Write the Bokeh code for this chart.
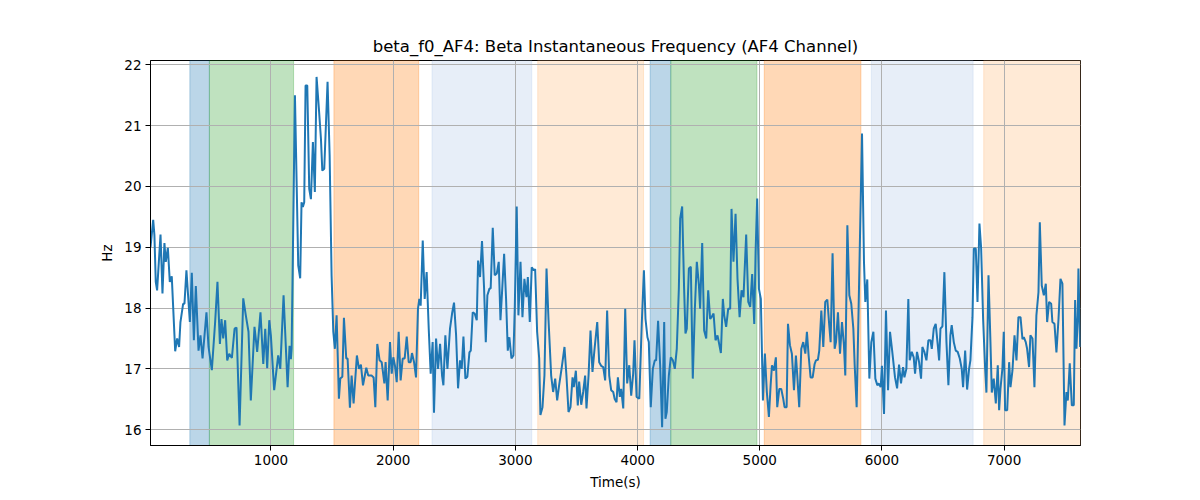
from bokeh.plotting import figure
from bokeh.models import ColumnDataSource, BoxAnnotation, Range1d, FixedTicker
from bokeh.embed import file_html
from bokeh.resources import INLINE

# time (s) and instantaneous beta frequency (Hz)
time_s = [
    14, 36, 46, 57, 68, 96, 112, 128, 139, 156, 172, 188, 216, 232, 248, 259, 281, 292, 308, 336,
    352, 369, 385, 407, 423, 440, 472, 489, 516, 543, 562, 582, 595, 609, 625, 642, 658, 680, 702, 718,
    743, 773, 794, 816, 835, 865, 887, 914, 937, 953, 969, 986,
    999, 1026, 1059, 1076, 1103, 1136, 1152, 1163, 1169, 1196, 1212, 1223, 1239, 1250, 1261, 1272, 1283, 1297,
    1313, 1327, 1343, 1359, 1373, 1392, 1409, 1420, 1436, 1463, 1480, 1496, 1510, 1523, 1537, 1556, 1567, 1584,
    1597, 1616, 1627, 1646, 1660, 1676, 1703, 1720, 1736, 1753, 1780, 1796, 1823, 1840, 1854, 1870, 1889, 1906,
    1928, 1938, 1955, 1974, 1988, 2001, 2015,
    2029, 2045, 2061, 2078, 2094, 2111, 2127, 2143, 2154, 2171, 2187, 2203, 2214, 2225, 2242, 2258, 2274, 2291,
    2307, 2323, 2334, 2351, 2367, 2384, 2400, 2411, 2427, 2444, 2465, 2482, 2498, 2515, 2531, 2547, 2561, 2575,
    2591, 2607, 2624, 2635, 2651, 2667, 2684, 2695, 2711, 2727, 2744, 2758, 2771, 2788, 2798, 2815, 2831, 2848,
    2864, 2878, 2891, 2908, 2924, 2938, 2951, 2968, 2984, 2995, 3011,
    3025, 3042, 3058, 3074, 3091, 3102, 3118, 3134, 3151, 3162, 3178, 3195, 3205, 3222, 3238, 3255, 3271, 3293,
    3309, 3326, 3342, 3358, 3380, 3402, 3418, 3435, 3451, 3468, 3478, 3495, 3511, 3522, 3539, 3555, 3571, 3582,
    3599, 3615, 3631, 3648, 3670, 3686, 3702, 3719, 3735, 3751, 3768, 3784, 3801, 3812, 3828, 3839, 3855, 3866,
    3883, 3899, 3915, 3932, 3948, 3964, 3975, 3992, 4014, 4035, 4052,
    4065, 4081, 4092, 4108, 4125, 4141, 4152, 4168, 4185, 4201, 4218, 4228, 4239, 4256, 4272, 4289, 4305, 4321,
    4338, 4349, 4365, 4381, 4392, 4403, 4420, 4436, 4452, 4469, 4485, 4502, 4512, 4529, 4545, 4562, 4578, 4594,
    4605, 4622, 4638, 4654, 4665, 4682, 4698, 4709, 4725, 4742, 4758, 4769, 4785, 4802, 4818, 4835, 4851, 4867,
    4889, 4906, 4922, 4938, 4955, 4966, 4979, 4993, 5009, 5026, 5042, 5058, 5075,
    5089, 5100, 5116, 5132, 5143, 5160, 5176, 5192, 5203, 5220, 5231, 5247, 5263, 5280, 5296, 5307, 5323, 5340,
    5356, 5373, 5386, 5400, 5416, 5433, 5449, 5460, 5476, 5487, 5504, 5520, 5536, 5553, 5569, 5580, 5596, 5613,
    5624, 5640, 5657, 5673, 5689, 5700, 5717, 5733, 5749, 5766, 5777, 5793, 5809, 5837, 5853, 5864, 5880, 5897,
    5913, 5930, 5946, 5962, 5973, 5990, 6000, 6017, 6033, 6050, 6066, 6082,
    6107, 6124, 6140, 6156, 6173, 6184, 6200, 6216, 6227, 6244, 6260, 6271, 6287, 6304, 6320, 6331, 6347, 6364,
    6380, 6397, 6408, 6424, 6440, 6457, 6468, 6479, 6495, 6511, 6528, 6544, 6560, 6571, 6588, 6604, 6620, 6637,
    6653, 6664, 6681, 6697, 6713, 6724, 6741, 6752, 6768, 6782, 6798, 6812, 6828, 6844, 6855, 6872, 6888, 6899,
    6915, 6932, 6948, 6959, 6970, 6986, 6997, 7008, 7025, 7041, 7052, 7068, 7085, 7101, 7117, 7134,
    7150, 7161, 7177, 7188, 7204, 7215, 7232, 7248, 7264, 7281, 7292, 7308, 7325, 7341, 7352, 7368, 7385, 7395,
    7412, 7428, 7445, 7461, 7477, 7494, 7510, 7521, 7537, 7554, 7570, 7581, 7592, 7603, 7608, 7622,
]
freq_hz = [
    19.00, 19.45, 19.20, 18.43, 18.29, 19.21, 18.24, 19.07, 18.76, 18.99, 18.43, 18.52, 17.29, 17.50, 17.36, 17.77, 18.07, 18.07, 18.62, 17.77,
    18.58, 17.47, 18.36, 17.30, 17.55, 17.17, 17.93, 17.36, 16.98, 17.77, 18.43, 17.41, 17.82, 17.50, 17.80, 17.14, 17.25, 17.18, 17.66, 17.68,
    16.07, 18.16, 17.88, 17.61, 16.48, 17.69, 17.28, 17.93, 17.08, 17.66, 17.01, 17.80,
    17.55, 16.65, 17.22, 17.00, 18.21, 16.70, 17.38, 17.16, 17.33, 21.50, 19.85, 18.70, 18.49, 19.74, 19.66, 19.74, 21.66, 21.66,
    19.96, 19.79, 20.73, 19.91, 21.80, 21.28, 20.78, 20.26, 20.29, 21.72, 20.51, 18.54, 17.61, 17.33, 17.88, 16.51, 16.84, 16.87,
    17.84, 17.17, 17.17, 16.36, 16.89, 16.43, 17.22, 17.00, 17.07, 16.73, 17.02, 16.89, 16.89, 16.86, 16.37, 17.41, 17.14, 17.11,
    16.76, 17.11, 16.48, 17.44, 16.92, 17.19, 17.05,
    16.78, 17.61, 16.81, 17.17, 17.17, 17.53, 17.11, 17.11, 17.26, 17.11, 16.86, 17.99, 18.15, 18.04, 19.11, 18.15, 18.59, 17.66,
    16.92, 17.44, 16.28, 17.50, 17.00, 17.41, 16.89, 16.73, 17.55, 17.00, 17.66, 17.91, 18.09, 17.55, 16.68, 17.14, 17.00, 17.53,
    16.84, 16.87, 17.27, 17.30, 17.93, 17.91, 17.80, 18.78, 18.51, 19.10, 18.32, 17.44, 18.21, 18.32, 18.32, 19.32, 18.54, 18.57,
    18.76, 17.80, 18.26, 18.89, 18.15, 17.30, 17.52, 17.17, 17.22, 17.99, 19.67,
    17.88, 18.76, 17.85, 18.48, 18.18, 18.51, 17.77, 18.67, 18.62, 18.64, 17.61, 17.17, 16.24, 16.37, 16.89, 18.65, 17.82, 16.89,
    16.62, 16.84, 16.48, 16.73, 17.03, 17.36, 16.89, 16.29, 16.37, 16.86, 16.70, 16.97, 16.40, 16.79, 16.41, 16.62, 16.89, 16.35,
    16.89, 17.63, 16.95, 17.33, 17.77, 17.11, 17.05, 17.03, 16.81, 17.96, 16.89, 16.65, 16.62, 16.51, 16.45, 16.86, 16.54, 16.67,
    16.35, 17.99, 16.76, 17.06, 16.56, 16.92, 17.47, 16.54, 16.51, 17.77, 18.62,
    17.82, 17.52, 17.44, 16.37, 17.00, 17.14, 17.14, 17.79, 17.06, 16.04, 17.77, 16.18, 16.29, 16.89, 17.19, 17.14, 17.00, 17.33,
    18.32, 19.47, 19.67, 18.32, 17.58, 17.66, 18.65, 18.68, 16.84, 17.99, 18.76, 18.38, 17.99, 19.07, 17.63, 17.50, 18.29, 17.82,
    17.85, 17.91, 17.47, 17.55, 17.44, 17.26, 18.15, 17.88, 17.69, 17.99, 17.99, 19.63, 18.76, 19.55, 18.48, 17.85, 18.29, 18.18,
    19.21, 18.10, 18.02, 18.56, 17.74, 18.92, 19.80, 18.32, 18.15, 16.48, 17.25, 16.62, 16.21,
    16.73, 17.06, 16.97, 17.19, 16.37, 16.67, 16.67, 16.51, 16.37, 16.37, 17.74, 17.39, 17.25, 16.65, 17.22, 16.89, 16.37, 17.33,
    17.44, 17.25, 17.61, 17.22, 16.86, 16.86, 17.08, 17.14, 17.15, 17.30, 17.96, 17.36, 18.10, 18.14, 17.71, 17.44, 18.90, 17.33,
    17.44, 17.93, 17.25, 17.77, 17.39, 16.89, 19.36, 18.21, 18.07, 17.66, 17.06, 16.37, 17.99, 20.87, 18.76, 18.10, 18.47, 16.84,
    17.44, 17.61, 16.84, 16.73, 16.76, 16.70, 17.05, 16.26, 17.96, 16.65, 17.61, 17.33,
    16.86, 16.68, 17.07, 16.76, 17.03, 16.86, 17.00, 18.15, 17.14, 17.28, 17.19, 16.92, 17.28, 17.11, 16.84, 17.36, 17.28, 17.14,
    17.47, 17.47, 17.33, 17.66, 17.74, 17.39, 17.14, 17.66, 17.70, 18.59, 17.44, 16.73, 17.55, 17.72, 17.44, 17.30, 17.28, 17.17,
    17.00, 16.70, 17.30, 16.66, 17.00, 17.14, 17.85, 18.98, 18.98, 18.10, 19.39, 18.98, 17.82, 17.03, 16.61, 18.54, 17.44, 16.61,
    16.84, 16.43, 17.06, 16.32, 16.67, 17.01, 17.61, 16.32, 16.32, 17.11, 16.70, 16.97, 17.55, 17.14, 17.85, 17.85,
    17.49, 17.52, 17.44, 17.33, 17.03, 17.55, 17.50, 16.70, 17.88, 18.26, 19.41, 18.37, 18.21, 18.40, 17.77, 18.10, 18.07, 17.77,
    17.74, 17.27, 17.82, 18.48, 18.40, 16.07, 16.62, 16.48, 17.09, 16.40, 16.40, 18.13, 17.33, 17.88, 18.65, 17.36,
]

# shaded epochs (start, end in seconds) and their colours
span_start = [336, 496, 1515, 2318, 3183, 4103, 4272, 5037, 5913, 6833]
span_end = [496, 1185, 2209, 3134, 4049, 4272, 4977, 5828, 6746, 7625]
span_color = ["#1f77b4", "#2ca02c", "#ff7f0e", "#aec7e8", "#ffbb78",
              "#1f77b4", "#2ca02c", "#ff7f0e", "#aec7e8", "#ffbb78"]

x_ticks = [1000, 2000, 3000, 4000, 5000, 6000, 7000]
y_ticks = [16, 17, 18, 19, 20, 21, 22]

FONT = "DejaVu Sans"

p = figure(
    title="beta_f0_AF4: Beta Instantaneous Frequency (AF4 Channel)",
    frame_width=930, frame_height=385,
    min_border_left=150, min_border_right=112, min_border_top=60, min_border_bottom=47,
    x_range=Range1d(14, 7625), y_range=Range1d(15.74, 22.07),
    output_backend="svg", toolbar_location=None,
)
p.title.align = "center"
p.title.text_font = FONT
p.title.text_font_style = "normal"
p.title.text_font_size = "16.5px"
p.title.text_color = "black"

p.background_fill_color = "white"
p.border_fill_color = "white"
p.outline_line_color = "black"
p.outline_line_width = 1

# epoch bands under the grid
for s, e, c in zip(span_start, span_end, span_color):
    p.add_layout(BoxAnnotation(left=s, right=e, fill_color=c, fill_alpha=0.3,
                               line_color=c, line_alpha=0.3, line_width=1, level="image"))

src = ColumnDataSource(data=dict(t=time_s, f=freq_hz))
p.line("t", "f", source=src, line_color="#1f77b4", line_width=2)

p.xaxis.ticker = FixedTicker(ticks=x_ticks)
p.yaxis.ticker = FixedTicker(ticks=y_ticks)
p.xaxis.axis_label = "Time(s)"
p.yaxis.axis_label = "Hz"
for ax in (p.xaxis, p.yaxis):
    ax.axis_label_text_font = FONT
    ax.axis_label_text_font_style = "normal"
    ax.axis_label_text_font_size = "13.5px"
    ax.axis_label_text_color = "black"
    ax.major_label_text_font = FONT
    ax.major_label_text_font_size = "13.5px"
    ax.major_label_text_color = "black"
    ax.axis_line_color = "black"
    ax.major_tick_line_color = "black"
    ax.major_tick_out = 5
    ax.major_tick_in = 0
    ax.minor_tick_line_color = None
    ax.major_label_standoff = 4
    ax.axis_label_standoff = 6
p.yaxis.major_label_orientation = "horizontal"

p.grid.grid_line_color = "#b0b0b0"
p.grid.grid_line_width = 1

open("out.html", "w").write(file_html(p, INLINE))
